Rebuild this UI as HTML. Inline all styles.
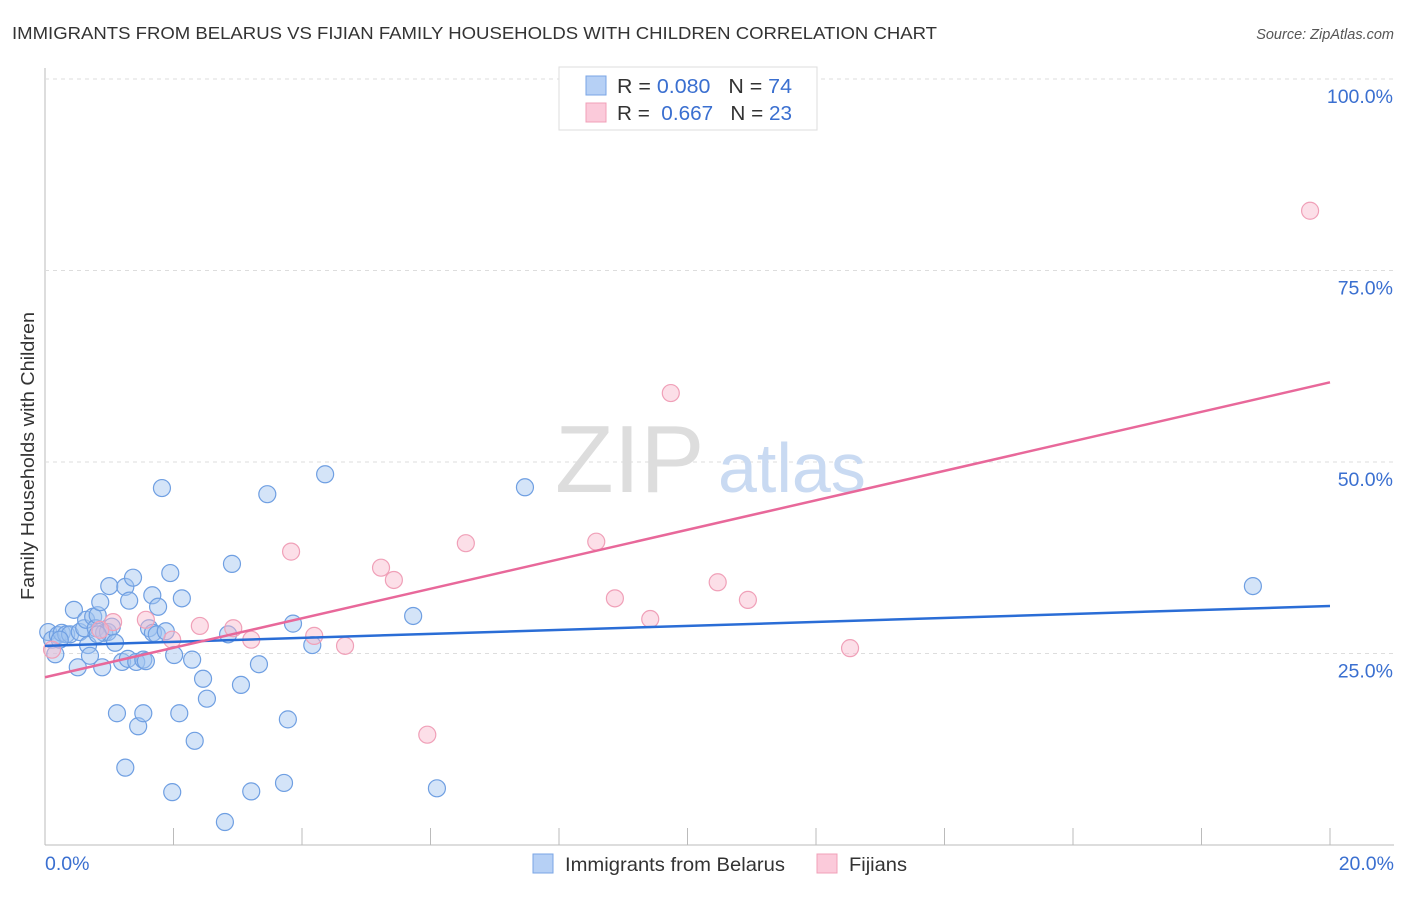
<!DOCTYPE html>
<html><head><meta charset="utf-8"><style>
body{margin:0;background:#fff;font-family:"Liberation Sans",sans-serif}
svg text{font-family:"Liberation Sans",sans-serif}
</style></head><body>
<svg width="1406" height="892" viewBox="0 0 1406 892">
<text x="12" y="39" font-size="17.5" fill="#333" textLength="925" lengthAdjust="spacingAndGlyphs">IMMIGRANTS FROM BELARUS VS FIJIAN FAMILY HOUSEHOLDS WITH CHILDREN CORRELATION CHART</text>
<text x="1394" y="39" font-size="14.5" fill="#555" font-style="italic" text-anchor="end">Source: ZipAtlas.com</text>
<g id="grid"></g>
<text x="555" y="492" font-size="96" fill="#ddd" font-family="Liberation Serif">ZIP</text>
<text x="718" y="492" font-size="70" fill="#c9daf2">atlas</text>
<text x="34" y="456" font-size="18" fill="#333" text-anchor="middle" textLength="288" lengthAdjust="spacingAndGlyphs" transform="rotate(-90 34 456)">Family Households with Children</text>
<g id="marks"></g>
<g>
<rect x="559" y="67" width="258" height="63" fill="#fff" stroke="#ddd"/>
<rect x="586" y="76" width="20" height="19" fill="#b6d0f5" stroke="#7aa5e5"/>
<rect x="586" y="103" width="20" height="19" fill="#fbcada" stroke="#f0a0b8"/>
<text x="617" y="93" font-size="20" fill="#333" textLength="175" lengthAdjust="spacingAndGlyphs">R = <tspan fill="#3a6fd0">0.080</tspan>&#160;&#160;&#160;N = <tspan fill="#3a6fd0">74</tspan></text>
<text x="617" y="120" font-size="20" fill="#333" textLength="175" lengthAdjust="spacingAndGlyphs">R = &#160;<tspan fill="#3a6fd0">0.667</tspan>&#160;&#160;&#160;N = <tspan fill="#3a6fd0">23</tspan></text>
</g>
<g>
<rect x="533" y="854" width="20" height="19" fill="#b6d0f5" stroke="#7aa5e5"/>
<text x="565" y="871" font-size="19.5" fill="#333" textLength="220" lengthAdjust="spacingAndGlyphs">Immigrants from Belarus</text>
<rect x="817" y="854" width="20" height="19" fill="#fbcada" stroke="#f0a0b8"/>
<text x="849" y="871" font-size="19.5" fill="#333" textLength="58" lengthAdjust="spacingAndGlyphs">Fijians</text>
</g>
</svg>
<script>
const blueX=[.05,.11,.16,.20,.26,.33,.39,.45,.51,.54,.61,.64,.67,.70,.75,.79,.82,.86,.89,.92,.98,1.00,1.04,1.09,1.12,1.20,1.25,1.25,1.31,1.29,1.37,1.42,1.45,1.53,1.53,1.57,1.62,1.67,1.68,1.76,1.82,1.95,1.98,2.01,2.09,2.13,2.29,2.33,2.46,2.52,2.80,2.85,2.91,3.05,3.21,3.33,3.46,3.72,3.78,3.86,4.16,4.36,5.73,6.10,7.47,18.80,1.74,1.88,.23,.82];
const blueY=[27.8,26.8,24.9,27.4,27.7,27.5,27.5,30.7,23.2,27.8,28.3,29.4,26.1,24.7,29.8,28.3,30.0,31.7,23.2,27.7,27.8,33.8,28.5,26.4,17.2,23.9,33.7,10.1,31.9,24.3,34.9,23.9,15.5,17.2,24.2,24.0,28.3,32.6,27.7,31.1,46.6,35.5,6.9,24.8,17.2,32.2,24.2,13.6,21.7,19.1,3.0,27.5,36.7,20.9,7.0,23.6,45.8,8.1,16.4,28.9,26.1,48.4,29.9,7.4,46.7,33.8,27.5,27.9,26.8,27.5];
const pinkX=[.11,1.06,1.57,1.98,2.41,2.93,3.21,3.83,4.19,4.67,5.23,5.43,5.95,6.55,8.58,8.87,9.42,9.74,10.47,10.94,12.53,19.69,.86];
const pinkY=[25.5,29.1,29.4,26.8,28.6,28.3,26.8,38.3,27.3,26.0,36.2,34.6,14.4,39.4,39.6,32.2,29.5,59.0,34.3,32.0,25.7,82.8,28.1];
const blueTrend=[26.0,31.2];
const pinkTrend=[21.9,60.4];
const yTicks=[25,50,75,100];
const xTickVals=[2,4,6,8,10,12,14,16,18,20];
const NS="http://www.w3.org/2000/svg";
const sx=v=>45+v/20*1285, sy=v=>845-v*7.66;
function mk(t,a,p){const e=document.createElementNS(NS,t);for(const k in a)e.setAttribute(k,a[k]);p.appendChild(e);return e;}
const grid=document.getElementById('grid'),marks=document.getElementById('marks');
const ax=mk('line',{x1:45,y1:68,x2:45,y2:845,stroke:'#bbb'},grid);


const bx=mk('line',{x1:45,y1:845,x2:1394,y2:845,stroke:'#bbb'},grid);


yTicks.forEach(v=>{
 const g=mk('line',{x1:45,x2:1394,y1:sy(v),y2:sy(v),stroke:'#ddd','stroke-dasharray':'4 4'},grid);
 
 
 const t=mk('text',{x:1393,y:sy(v)+24,'font-size':19.5,fill:'#3a6fd0','text-anchor':'end'},grid);
 t.textContent=v.toFixed(1)+'%';
 
 
});
xTickVals.forEach(v=>{
 const l=mk('line',{x1:sx(v),x2:sx(v),y1:828,y2:845,stroke:'#bbb'},grid);
 
 
});
[[0,'start',45],[20,'end',1394]].forEach(([v,a,x])=>{
 const t=mk('text',{x:x,y:870,'font-size':19.5,fill:'#3a6fd0','text-anchor':a},grid);
 t.textContent=v.toFixed(1)+'%';
 
 
});
blueX.forEach((x,i)=>{
 const c=mk('circle',{cx:sx(x),cy:sy(blueY[i]),r:8.5,fill:'rgba(160,195,240,0.45)',stroke:'#6f9fe2','stroke-width':1.2},marks);
 
 
});
pinkX.forEach((x,i)=>{
 const c=mk('circle',{cx:sx(x),cy:sy(pinkY[i]),r:8.5,fill:'rgba(248,185,205,0.45)',stroke:'#f0a0b8','stroke-width':1.2},marks);
 
 
});
const bl=mk('line',{x1:sx(0),y1:sy(blueTrend[0]),x2:sx(20),y2:sy(blueTrend[1]),stroke:'#2a6dd6','stroke-width':2.5},marks);


const pl=mk('line',{x1:sx(0),y1:sy(pinkTrend[0]),x2:sx(20),y2:sy(pinkTrend[1]),stroke:'#e8689a','stroke-width':2.5},marks);


</script>
</body></html>
